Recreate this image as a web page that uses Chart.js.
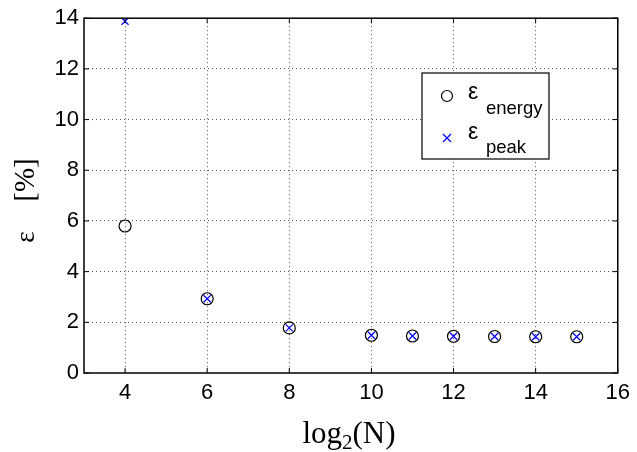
<!DOCTYPE html>
<html>
<head>
<meta charset="utf-8">
<script src="https://cdn.jsdelivr.net/npm/chart.js@4/dist/chart.umd.min.js"></script>
<style>
  html, body { margin: 0; padding: 0; background: #fff; }
  #wrap { width: 637px; height: 452px; }
</style>
</head>
<body>
<div id="wrap"><canvas id="chart"></canvas></div>
<script>
// --- data ---
const log2N = [4, 6, 8, 10, 11, 12, 13, 14, 15];
const energyErr = [5.8, 2.93, 1.78, 1.49, 1.46, 1.45, 1.44, 1.43, 1.43];
const peakErr = [13.88, 2.93, 1.78, 1.49, 1.46, 1.45, 1.44, 1.43, 1.43];
const xTicks = [4, 6, 8, 10, 12, 14, 16];
const yTicks = [0, 2, 4, 6, 8, 10, 12, 14];

const sans = "'Liberation Sans', Arial, sans-serif";
const serif = "'Liberation Serif', 'Times New Roman', serif";

const toPoints = (ys) => log2N.map((x, i) => ({ x: x, y: ys[i] }));

// frame, axis titles and the boxed legend (MATLAB look)
const decorPlugin = {
    id: "decor",
    afterDraw(chart) {
        const ctx = chart.ctx;
        const a = chart.chartArea;
        ctx.save();

        // box around plot
        ctx.strokeStyle = "#000";
        ctx.lineWidth = 1.5;
        ctx.strokeRect(a.left, a.top, a.right - a.left, a.bottom - a.top);

        // small inward tick marks
        ctx.lineWidth = 1;
        const xs = chart.scales.x, ys = chart.scales.y;
        xTicks.forEach(t => {
            const px = xs.getPixelForValue(t);
            ctx.beginPath();
            ctx.moveTo(px, a.bottom); ctx.lineTo(px, a.bottom - 5);
            ctx.moveTo(px, a.top); ctx.lineTo(px, a.top + 5);
            ctx.stroke();
        });
        yTicks.forEach(t => {
            const py = ys.getPixelForValue(t);
            ctx.beginPath();
            ctx.moveTo(a.left, py); ctx.lineTo(a.left + 5, py);
            ctx.moveTo(a.right, py); ctx.lineTo(a.right - 5, py);
            ctx.stroke();
        });

        // x title: log2(N)
        ctx.fillStyle = "#000";
        ctx.textBaseline = "alphabetic";
        ctx.textAlign = "left";
        const big = "31px " + serif, small = "21px " + serif;
        ctx.font = big;
        const w1 = ctx.measureText("log").width;
        const w3 = ctx.measureText("(N)").width;
        ctx.font = small;
        const w2 = ctx.measureText("2").width;
        let x0 = 349 - (w1 + w2 + w3) / 2;
        const yb = 443;
        ctx.font = big;
        ctx.fillText("log", x0, yb);
        ctx.font = small;
        ctx.fillText("2", x0 + w1, yb + 6);
        ctx.font = big;
        ctx.fillText("(N)", x0 + w1 + w2, yb);

        // y title: ε [%]
        ctx.save();
        ctx.translate(34, 0);
        ctx.rotate(-Math.PI / 2);
        ctx.textAlign = "center";
        ctx.font = "29px " + serif;
        ctx.fillText("[%]", -180, 0);
        ctx.font = "27px " + serif;
        ctx.fillText("\u03b5", -237, 0);
        ctx.restore();

        // legend box
        const lx = 422, ly = 73, lw = 127, lh = 86;
        ctx.fillStyle = "#fff";
        ctx.fillRect(lx, ly, lw, lh);
        ctx.strokeStyle = "#000";
        ctx.lineWidth = 1.2;
        ctx.strokeRect(lx, ly, lw, lh);

        // circle marker
        ctx.beginPath();
        ctx.arc(447, 96, 5.5, 0, Math.PI * 2);
        ctx.stroke();
        // cross marker
        ctx.strokeStyle = "#0000ff";
        ctx.beginPath();
        ctx.moveTo(443, 134); ctx.lineTo(451, 142);
        ctx.moveTo(451, 134); ctx.lineTo(443, 142);
        ctx.stroke();

        ctx.fillStyle = "#000";
        ctx.textAlign = "left";
        ctx.font = "23px " + sans;
        ctx.fillText("\u03b5", 468, 99);
        ctx.fillText("\u03b5", 468, 139);
        ctx.font = "18.5px " + sans;
        ctx.fillText("energy", 486, 114);
        ctx.fillText("peak", 486, 153);

        ctx.restore();
    }
};

new Chart(document.getElementById("chart"), {
    type: "scatter",
    data: {
        datasets: [
            {
                label: "energy",
                data: toPoints(energyErr),
                pointStyle: "circle",
                pointRadius: 6,
                pointHoverRadius: 6,
                borderColor: "#000",
                backgroundColor: "rgba(0,0,0,0)",
                borderWidth: 1.2
            },
            {
                label: "peak",
                data: toPoints(peakErr),
                pointStyle: "crossRot",
                pointRadius: 5,
                pointHoverRadius: 5,
                borderColor: "#0000ff",
                backgroundColor: "#0000ff",
                borderWidth: 1.2
            }
        ]
    },
    options: {
        responsive: true,
        maintainAspectRatio: false,
        animation: false,
        layout: { padding: { top: 16, right: 16, left: 0, bottom: 0 } },
        plugins: { legend: { display: false }, tooltip: { enabled: false } },
        scales: {
            x: {
                type: "linear",
                min: 3, max: 16,
                afterBuildTicks: (s) => { s.ticks = xTicks.map(v => ({ value: v })); },
                afterFit: (s) => { s.height = 79; },
                grid: {
                    color: (c) => (c.tick && c.tick.value === 16) ? "rgba(0,0,0,0)" : "#555",
                    lineWidth: 1,
                    drawTicks: false
                },
                border: { display: false, dash: [1, 3] },
                ticks: { color: "#000", font: { family: sans, size: 22 }, padding: 7 }
            },
            y: {
                type: "linear",
                min: 0, max: 14,
                afterBuildTicks: (s) => { s.ticks = yTicks.map(v => ({ value: v })); },
                afterFit: (s) => { s.width = 84; },
                grid: {
                    color: (c) => (c.tick && (c.tick.value === 0 || c.tick.value === 14)) ? "rgba(0,0,0,0)" : "#555",
                    lineWidth: 1,
                    drawTicks: false
                },
                border: { display: false, dash: [1, 3] },
                ticks: { color: "#000", font: { family: sans, size: 22 }, padding: 5 }
            }
        }
    },
    plugins: [decorPlugin]
});
</script>
</body>
</html>
